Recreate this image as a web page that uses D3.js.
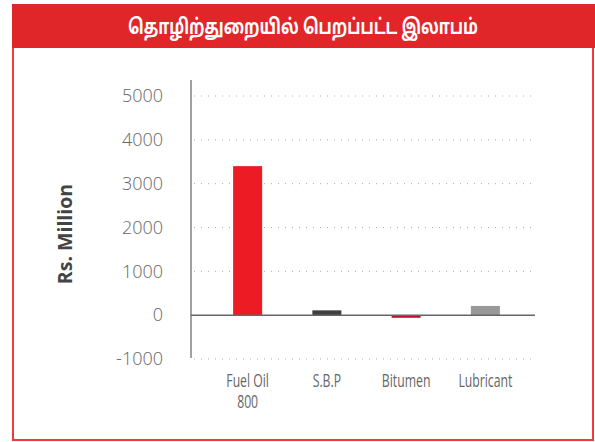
<!DOCTYPE html>
<html>
<head>
<meta charset="utf-8">
<script src="https://cdnjs.cloudflare.com/ajax/libs/d3/7.8.5/d3.min.js"></script>
<style>
  body { margin: 0; background: #fff; }
  svg { display: block; }
</style>
</head>
<body>
<div id="chart"></div>
<script>
// chart data
var title = "தொழிற்துறையில் பெறப்பட்ட இலாபம்";
var categories = [["Fuel Oil", "800"], ["S.B.P"], ["Bitumen"], ["Lubricant"]];
var values = [3400, 110, -60, 210];
var barColors = ["#ed1c24", "#404040", "#c41230", "#999999"];
var yTicks = [-1000, 0, 1000, 2000, 3000, 4000, 5000];
var yTitle = "Rs. Million";

var w = 595, h = 442;
var svg = d3.select("#chart").append("svg")
  .attr("width", w)
  .attr("height", h);

// frame + header
svg.append("rect")
  .attr("x", 13).attr("y", 30)
  .attr("width", 580).attr("height", 410)
  .attr("fill", "none")
  .attr("stroke", "#ef3b3f")
  .attr("stroke-width", 2);
svg.append("rect")
  .attr("x", 12).attr("y", 4)
  .attr("width", 583).attr("height", 44)
  .attr("fill", "#e1262a");
svg.append("text")
  .attr("x", 303).attr("y", 34)
  .attr("text-anchor", "middle")
  .attr("fill", "#fff")
  .attr("font-family", "'Noto Sans Tamil', 'Noto Sans', sans-serif")
  .attr("font-weight", "bold")
  .attr("font-size", 21)
  .attr("textLength", 350)
  .attr("lengthAdjust", "spacingAndGlyphs")
  .text(title);

var y = d3.scaleLinear().domain([-1000, 5000]).range([359, 96]);
var x = d3.scaleBand()
  .domain(categories.map(function(d) { return d.join(" "); }))
  .range([208, 525])
  .paddingInner(0.634)
  .paddingOuter(0.317);

// dotted grid
svg.selectAll("line.grid")
  .data(yTicks.filter(function(d) { return d !== 0; }))
  .enter().append("line")
  .attr("class", "grid")
  .attr("x1", 194).attr("x2", 535)
  .attr("y1", function(d) { return y(d); })
  .attr("y2", function(d) { return y(d); })
  .attr("stroke", "#aaa")
  .attr("stroke-width", 1)
  .attr("stroke-dasharray", "1,6");

// y axis
var yAxis = d3.axisLeft(y).tickValues(yTicks).tickSize(0).tickPadding(28)
  .tickFormat(function(d) { return d < 0 ? "-" + Math.abs(d) : String(d); });
var gy = svg.append("g")
  .attr("transform", "translate(191,0)")
  .call(yAxis);
gy.select(".domain").remove();
gy.selectAll("text")
  .attr("fill", "#666")
  .attr("font-family", "'Open Sans', sans-serif")
  .attr("font-weight", 300)
  .attr("font-size", 18);

svg.append("line")
  .attr("x1", 191).attr("x2", 191)
  .attr("y1", 80).attr("y2", 358)
  .attr("stroke", "#444").attr("stroke-width", 1);

svg.append("text")
  .attr("transform", "translate(72,234) rotate(-90)")
  .attr("text-anchor", "middle")
  .attr("fill", "#444")
  .attr("font-family", "'Open Sans', sans-serif")
  .attr("font-weight", "bold")
  .attr("font-size", 19.5)
  .text(yTitle);

// bars
svg.selectAll("rect.bar")
  .data(values)
  .enter().append("rect")
  .attr("class", "bar")
  .attr("x", function(d, i) { return x(categories[i].join(" ")); })
  .attr("width", x.bandwidth())
  .attr("y", function(d) { return y(Math.max(0, d)); })
  .attr("height", function(d) { return Math.abs(y(d) - y(0)); })
  .attr("fill", function(d, i) { return barColors[i]; });

// zero line
svg.append("line")
  .attr("x1", 191).attr("x2", 535)
  .attr("y1", y(0)).attr("y2", y(0))
  .attr("stroke", "#666").attr("stroke-width", 1.5);

// category labels (condensed look by squeezing horizontally)
var lab = svg.selectAll("text.cat")
  .data(categories)
  .enter().append("text")
  .attr("class", "cat")
  .attr("text-anchor", "middle")
  .attr("fill", "#666")
  .attr("font-family", "'Open Sans', sans-serif")
  .attr("font-size", 18)
  .attr("transform", function(d) {
    return "translate(" + (x(d.join(" ")) + x.bandwidth() / 2) + ",387) scale(0.68,1)";
  });
lab.selectAll("tspan")
  .data(function(d) { return d; })
  .enter().append("tspan")
  .attr("x", 0)
  .attr("dy", function(d, i) { return i === 0 ? 0 : 21; })
  .text(function(d) { return d; });
</script>
</body>
</html>
